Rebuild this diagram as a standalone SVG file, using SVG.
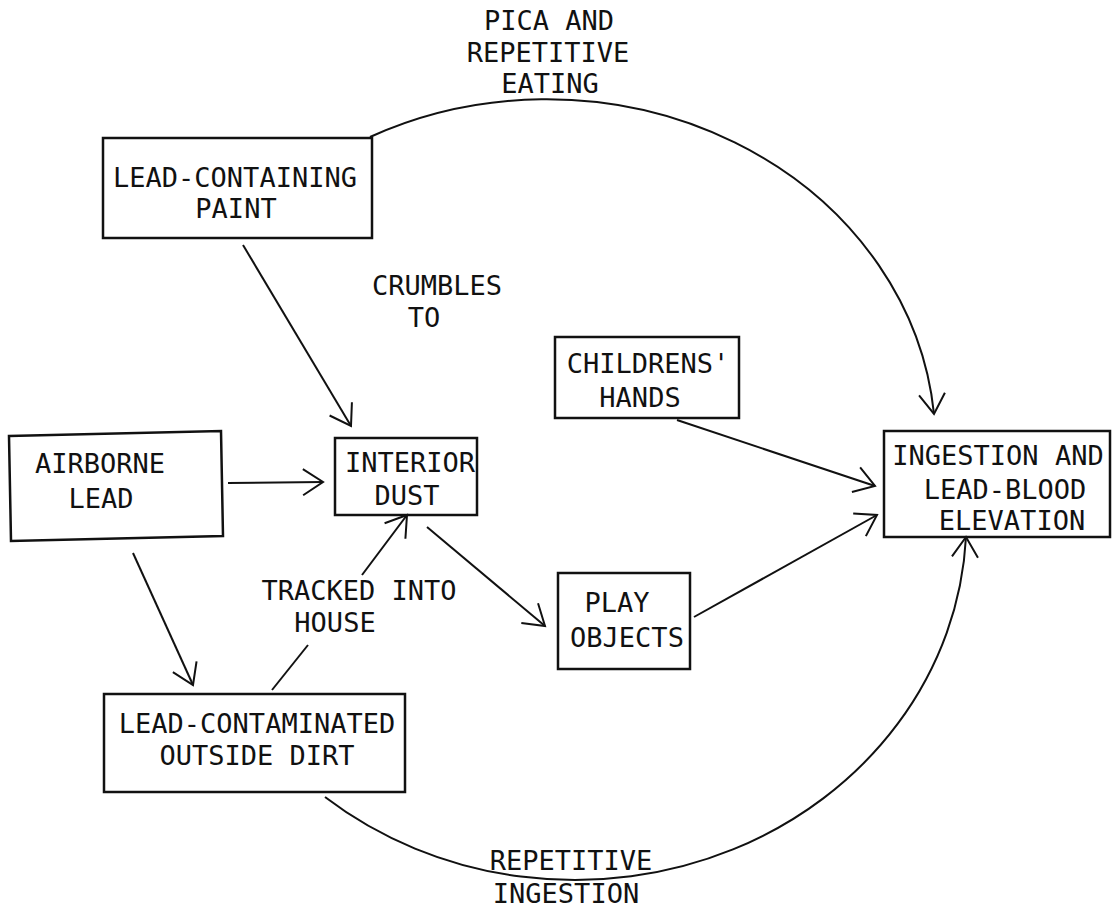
<svg xmlns="http://www.w3.org/2000/svg" width="1114" height="909" viewBox="0 0 1114 909">
<defs>
<style>
.box{fill:none;stroke:#111;stroke-width:2.5;stroke-linejoin:miter}
.t{font-family:"DejaVu Sans Mono","Liberation Mono",monospace;font-size:27px;fill:#111;text-anchor:middle}
.c{fill:none;stroke:#111;stroke-width:2}
.a{marker-end:url(#arr)}
</style>
<marker id="arr" markerUnits="userSpaceOnUse" orient="auto" refX="0" refY="0" markerWidth="40" markerHeight="40" overflow="visible">
<path d="M-20,-13 L0,0 L-20,13" fill="none" stroke="#111" stroke-width="2"/>
</marker>
</defs>
<rect width="1114" height="909" fill="#fff"/>
<g id="connectors">
<path class="c a" d="M243,245 L351,426"/>
<path class="c a" d="M228,483 L323,482"/>
<path class="c a" d="M133,553 L193,685"/>
<path class="c" d="M272,690 L308,645"/>
<path class="c a" d="M362,575 L407,515"/>
<path class="c a" d="M427,527 L545,626"/>
<path class="c a" d="M677,420 L875,486"/>
<path class="c a" d="M694,617 L877,515"/>
<path class="c a" d="M370,137 A389,346 0 0 1 934,414"/>
<path class="c a" d="M325,797 A391.4,360 0 0 0 966,537"/>
</g>
<g id="labels">
<text class="t" x="549" y="30">PICA AND</text>
<text class="t" x="548" y="62">REPETITIVE</text>
<text class="t" x="550" y="93">EATING</text>
<text class="t" x="437" y="295">CRUMBLES</text>
<text class="t" x="424" y="327">TO</text>
<text class="t" x="359" y="600">TRACKED INTO</text>
<text class="t" x="335" y="632">HOUSE</text>
<text class="t" x="571" y="870">REPETITIVE</text>
<text class="t" x="566" y="903">INGESTION</text>
</g>
<g id="paint">
<rect class="box" x="103" y="138" width="269" height="100"/>
<text class="t" x="235" y="187">LEAD-CONTAINING</text>
<text class="t" x="236" y="218">PAINT</text>
</g>
<g id="airborne">
<polygon class="box" points="9,436 221,431 223,536 11,541"/>
<text class="t" x="100" y="473">AIRBORNE</text>
<text class="t" x="101" y="508">LEAD</text>
</g>
<g id="dust">
<rect class="box" x="335" y="438" width="142" height="77"/>
<text class="t" x="410" y="472">INTERIOR</text>
<text class="t" x="407" y="505">DUST</text>
</g>
<g id="hands">
<rect class="box" x="555" y="337" width="184" height="81"/>
<text class="t" x="648" y="373">CHILDRENS'</text>
<text class="t" x="640" y="407">HANDS</text>
</g>
<g id="play">
<rect class="box" x="558" y="573" width="132" height="96"/>
<text class="t" x="617" y="612">PLAY</text>
<text class="t" x="627" y="647">OBJECTS</text>
</g>
<g id="dirt">
<rect class="box" x="104" y="694" width="301" height="98"/>
<text class="t" x="257" y="733">LEAD-CONTAMINATED</text>
<text class="t" x="257" y="765">OUTSIDE DIRT</text>
</g>
<g id="ingestion">
<rect class="box" x="884" y="431" width="226" height="106"/>
<text class="t" x="998" y="465">INGESTION AND</text>
<text class="t" x="1005" y="499">LEAD-BLOOD</text>
<text class="t" x="1012" y="530">ELEVATION</text>
</g>
</svg>
